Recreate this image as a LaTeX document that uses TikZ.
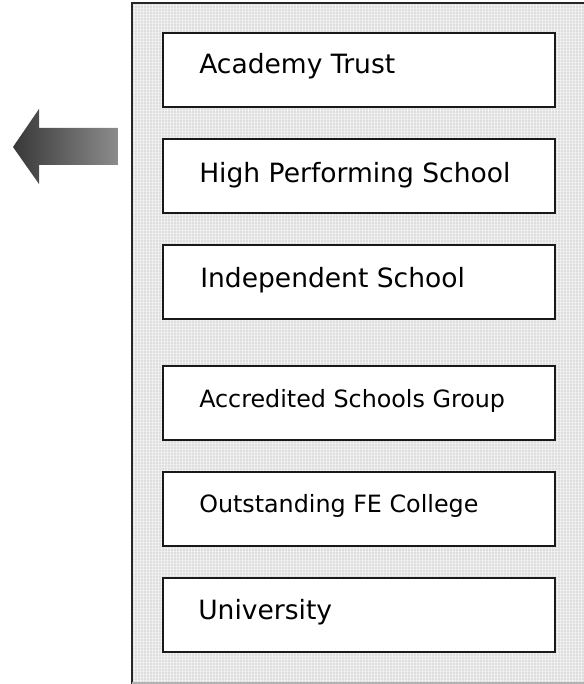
\documentclass[tikz,border=0pt]{standalone}
\usepackage{fontspec}
\setmainfont{DejaVu Sans}
\begin{document}
\begin{tikzpicture}[x=0.75pt,y=-0.75pt,
  entrybox/.style={draw=black!90,line width=1.7pt,fill=white,minimum width=392*0.75pt,minimum height=74*0.75pt,inner sep=0pt},
  biglabel/.style={anchor=base west,inner sep=0pt,font=\fontsize{19.9}{24}\selectfont},
  smalllabel/.style={anchor=base west,inner sep=0pt,font=\fontsize{17.85}{22}\selectfont}]
\definecolor{panelgray}{HTML}{DEDEDE}
\definecolor{arrowdark}{HTML}{383838}
\definecolor{arrowlight}{HTML}{8C8C8C}
\useasboundingbox (0,0) rectangle (584,684);
% textured panel
\fill[panelgray] (132,3) rectangle (584,684);
\foreach \xx in {134,137,...,584} {\draw[white,opacity=0.5,line width=0.6pt] (\xx,4) -- (\xx,684);}
\foreach \yy in {5,8,...,684} {\draw[white,opacity=0.4,line width=0.6pt] (133,\yy) -- (584,\yy);}
\draw[black!85,line width=1.1pt] (584,3) -- (132,3) -- (132,684);
\draw[black!30,line width=0.8pt] (132,683) -- (584,683);
% boxes
\node[entrybox] (b1) at (359,70) {};
\node[entrybox] (b2) at (359,176) {};
\node[entrybox] (b3) at (359,282) {};
\node[entrybox] (b4) at (359,403) {};
\node[entrybox] (b5) at (359,509) {};
\node[entrybox] (b6) at (359,615) {};
\node[biglabel] (t1) at (199,74) {Academy Trust};
\node[biglabel] (t2) at (199,183) {High Performing School};
\node[biglabel] (t3) at (200,287) {Independent School};
\node[smalllabel] (t4) at (199,407) {Accredited Schools Group};
\node[smalllabel] (t5) at (199,512) {Outstanding FE College};
\node[biglabel] (t6) at (198,619) {University};
% arrow
\shade[left color=arrowdark,right color=arrowlight]
  (13,147) -- (39,109) -- (39,128) -- (118,128) -- (118,165) -- (39,165) -- (39,184) -- cycle;
\end{tikzpicture}
\end{document}
